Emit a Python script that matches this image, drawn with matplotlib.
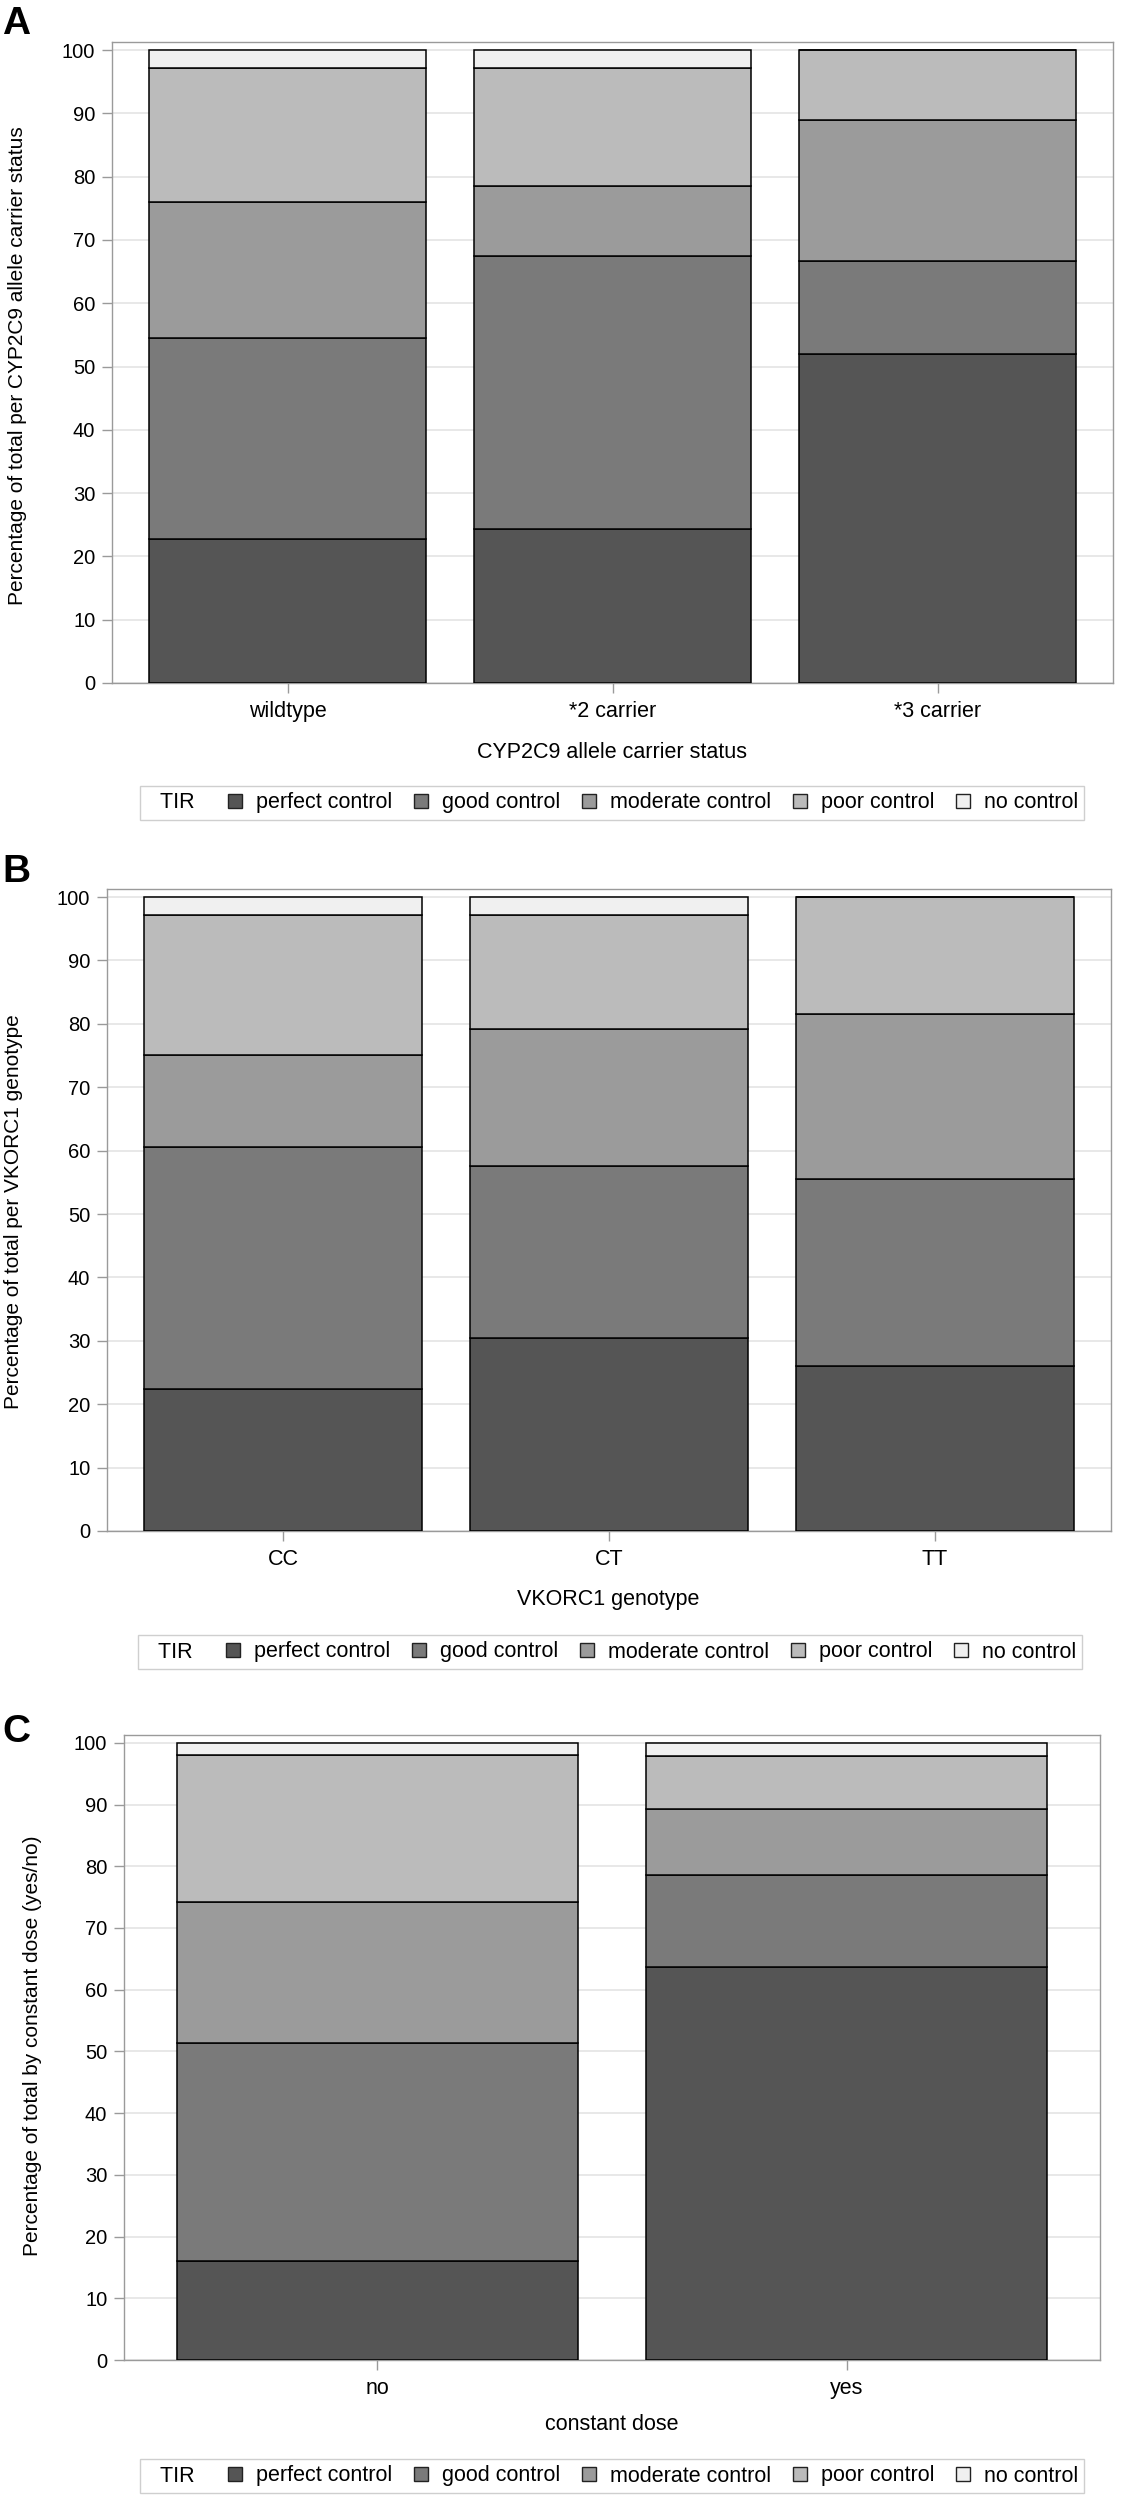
import numpy as np
import matplotlib
matplotlib.use('Agg')
import matplotlib.pyplot as plt
from matplotlib.patches import Patch

plt.rcParams['font.family'] = ['Liberation Sans', 'DejaVu Sans']

W, H = 1122, 2495

tir_levels = ['perfect control', 'good control', 'moderate control', 'poor control', 'no control']
tir_colors = ['#555555', '#7a7a7a', '#9b9b9b', '#bbbbbb', '#f0f0f0']

# panel A - CYP2C9
cyp_groups = ['wildtype', '*2 carrier', '*3 carrier']
cyp_perfect = [22.8, 24.4, 51.9]
cyp_good = [31.7, 43.0, 14.7]
cyp_moderate = [21.5, 11.1, 22.3]
cyp_poor = [21.2, 18.6, 11.1]
cyp_none = [2.8, 2.9, 0.0]

# panel B - VKORC1
vk_groups = ['CC', 'CT', 'TT']
vk_perfect = [22.4, 30.4, 26.1]
vk_good = [38.2, 27.1, 29.5]
vk_moderate = [14.5, 21.7, 25.9]
vk_poor = [22.1, 17.9, 18.5]
vk_none = [2.8, 2.9, 0.0]

# panel C - constant dose
cd_groups = ['no', 'yes']
cd_perfect = [16.1, 63.7]
cd_good = [35.2, 14.9]
cd_moderate = [22.9, 10.6]
cd_poor = [23.8, 8.6]
cd_none = [2.0, 2.2]

panels = [
    dict(letter='A', groups=cyp_groups,
         series=[cyp_perfect, cyp_good, cyp_moderate, cyp_poor, cyp_none],
         xlabel='CYP2C9 allele carrier status',
         ylabel='Percentage of total per CYP2C9 allele carrier status',
         box=(112, 42, 1113, 683), letter_y=34, ylab=(18, 366), xlab=(612, 752), leg=(612, 803)),
    dict(letter='B', groups=vk_groups,
         series=[vk_perfect, vk_good, vk_moderate, vk_poor, vk_none],
         xlabel='VKORC1 genotype',
         ylabel='Percentage of total per VKORC1 genotype',
         box=(107, 889, 1111, 1531), letter_y=882, ylab=(14, 1212), xlab=(608, 1600), leg=(610, 1652)),
    dict(letter='C', groups=cd_groups,
         series=[cd_perfect, cd_good, cd_moderate, cd_poor, cd_none],
         xlabel='constant dose',
         ylabel='Percentage of total by constant dose (yes/no)',
         box=(124, 1735, 1100, 2360), letter_y=1742, ylab=(33, 2046), xlab=(612, 2425), leg=(612, 2476)),
]

fig = plt.figure(figsize=(W / 100, H / 100), dpi=100)
frame_col = '#9a9a9a'

for p in panels:
    l, t, r, b = p['box']
    ax = fig.add_axes([l / W, 1 - b / H, (r - l) / W, (b - t) / H])
    n = len(p['groups'])
    x = np.arange(n)
    bottom = np.zeros(n)
    for vals, col in zip(p['series'], tir_colors):
        ax.bar(x, vals, width=0.855, bottom=bottom, color=col,
               edgecolor='black', linewidth=1.1, zorder=3)
        bottom += np.array(vals)

    ax.set_xlim(-0.54, n - 1 + 0.54)
    ax.set_ylim(0, 101.27)
    ax.set_yticks(range(0, 101, 10))
    ax.set_xticks(x)
    ax.set_xticklabels(p['groups'])
    ax.yaxis.grid(True, color='#e6e6e6', linewidth=1.3)
    ax.set_axisbelow(True)
    for s in ax.spines.values():
        s.set_color(frame_col)
        s.set_linewidth(1.0)
    ax.tick_params(axis='y', direction='out', length=7, width=1.0, color=frame_col,
                   labelsize=14.5, pad=5)
    ax.tick_params(axis='x', direction='out', length=7, width=1.0, color=frame_col,
                   labelsize=15.5, pad=6)

    ax.set_ylabel(p['ylabel'], fontsize=15, va='center')
    ax.yaxis.set_label_coords(p['ylab'][0] / W, 1 - p['ylab'][1] / H, transform=fig.transFigure)
    ax.set_xlabel(p['xlabel'], fontsize=15.5, va='center')
    ax.xaxis.set_label_coords(p['xlab'][0] / W, 1 - p['xlab'][1] / H, transform=fig.transFigure)

    fig.text(2 / W, 1 - p['letter_y'] / H, p['letter'], fontsize=28, fontweight='bold',
             ha='left', va='baseline')

    handles = [Patch(facecolor='none', edgecolor='none')]
    handles += [Patch(facecolor=c, edgecolor='#222222', linewidth=1.0) for c in tir_colors]
    labels = ['TIR  '] + tir_levels
    leg = fig.legend(handles, labels, ncol=6, loc='center',
                     bbox_to_anchor=(p['leg'][0] / W, 1 - p['leg'][1] / H),
                     frameon=True, fancybox=False, edgecolor='#c4c4c4', fontsize=15.5,
                     handlelength=0.65, handleheight=0.65, handletextpad=0.65,
                     columnspacing=1.0, borderpad=0.3, borderaxespad=0)
    leg.get_frame().set_linewidth(1.0)
    # drop the empty handle in front of the TIR title
    first = leg._legend_handle_box.get_children()[0].get_children()[0]
    first.get_children()[0].set_width(0)

fig.savefig('out.png', dpi=100)
